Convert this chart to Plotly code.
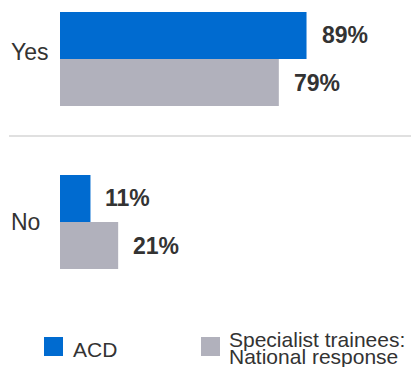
import plotly.graph_objects as go

categories = ["Yes", "No"]
series_names = ["ACD", "Specialist trainees: National response"]
acd_values = [89, 11]
national_values = [79, 21]
value_suffix = "%"

BLUE = "#006BD0"
GREY = "#B1B1BC"
TEXT = "#333333"
FONT = "Liberation Sans, Arial, sans-serif"

fig = go.Figure()
for name, vals, color in [(series_names[0], acd_values, BLUE),
                          (series_names[1], national_values, GREY)]:
    fig.add_trace(go.Bar(
        x=vals, y=list(range(len(categories))), orientation="h",
        name=name, marker=dict(color=color, line=dict(width=0)),
        showlegend=False, hoverinfo="skip",
    ))

bargap = 0.423
half = (1 - bargap) / 4  # center offset of each bar in a 2-bar group

annotations = []
# value labels
for si, vals in enumerate([acd_values, national_values]):
    off = -half if si == 0 else half
    for ci, v in enumerate(vals):
        annotations.append(dict(
            x=v, y=ci + off, xref="x", yref="y",
            text=f"<b>{v}{value_suffix}</b>", showarrow=False,
            xanchor="left", yanchor="middle", xshift=13,
            font=dict(size=23, color=TEXT, family=FONT),
        ))
# category labels (left aligned)
cat_shift = [7, 0]
for ci, c in enumerate(categories):
    annotations.append(dict(
        x=-0.185, y=ci, xref="paper", yref="y", text=c, showarrow=False,
        xanchor="left", yanchor="middle", yshift=cat_shift[ci],
        font=dict(size=23, color=TEXT, family=FONT),
    ))
# legend texts
annotations.append(dict(
    x=0, y=0, xref="paper", yref="paper", text=series_names[0], showarrow=False,
    xanchor="left", yanchor="middle", xshift=11, yshift=-69,
    font=dict(size=21, color=TEXT, family=FONT),
))
leg2_lines = ["Specialist trainees:", "National response"]
for li, line in enumerate(leg2_lines):
    annotations.append(dict(
        x=0, y=0, xref="paper", yref="paper", text=line, showarrow=False,
        xanchor="left", yanchor="middle", xshift=167, yshift=-59 - 17.5 * li,
        font=dict(size=21, color=TEXT, family=FONT),
    ))

shapes = [
    # separator line
    dict(type="line", xref="paper", yref="paper", x0=-0.184, x1=1.27,
         y0=0.533, y1=0.533, line=dict(color="#E0E0E0", width=2)),
    # legend squares
    dict(type="rect", xref="paper", yref="paper", xanchor=0, yanchor=0,
         xsizemode="pixel", ysizemode="pixel", x0=-16, x1=3, y0=-57, y1=-76,
         fillcolor=BLUE, line=dict(width=0)),
    dict(type="rect", xref="paper", yref="paper", xanchor=0, yanchor=0,
         xsizemode="pixel", ysizemode="pixel", x0=141, x1=160, y0=-57, y1=-76,
         fillcolor=GREY, line=dict(width=0)),
]

fig.update_layout(
    width=411, height=367,
    margin=dict(l=60, r=73.5, t=10, b=87),
    paper_bgcolor="white", plot_bgcolor="white",
    barmode="group", bargap=bargap, bargroupgap=0,
    xaxis=dict(range=[0, 100], visible=False, fixedrange=True),
    yaxis=dict(range=[1.3558, -0.3006], visible=False, fixedrange=True),
    annotations=annotations, shapes=shapes,
    font=dict(family=FONT, color=TEXT),
)

fig.write_html("out.html", config={"displayModeBar": False})

# remove default page margin so the figure sits at the window's top-left
with open("out.html", encoding="utf-8") as f:
    html = f.read()
html = html.replace("<body>", '<body style="margin:0;padding:0;overflow:hidden">', 1)
html = html.replace("<head>", '<head><style>html,body{margin:0;padding:0;overflow:hidden}</style>', 1)
with open("out.html", "w", encoding="utf-8") as f:
    f.write(html)
